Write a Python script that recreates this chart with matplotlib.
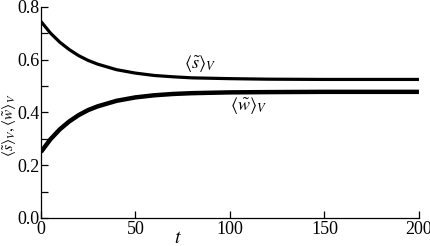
import matplotlib
matplotlib.use("Agg")
import matplotlib.pyplot as plt
from matplotlib.ticker import MultipleLocator

plt.rcParams['font.family'] = ['Liberation Serif', 'DejaVu Serif']
plt.rcParams['mathtext.fontset'] = 'stix'

# values
t = [0, 5, 10, 15, 20, 25, 30, 40, 50, 60, 70, 80, 100, 120, 150, 200]
s_mean = [0.745, 0.701, 0.666, 0.638, 0.615, 0.597, 0.583, 0.562, 0.549,
          0.540, 0.535, 0.531, 0.528, 0.526, 0.525, 0.525]
w_mean = [0.250, 0.298, 0.336, 0.366, 0.390, 0.409, 0.423, 0.444, 0.457,
          0.465, 0.470, 0.473, 0.476, 0.477, 0.478, 0.478]

fig = plt.figure(figsize=(4.31, 2.46), dpi=100)
ax = fig.add_axes([0.095, 0.114, 0.877, 0.858])

ax.plot(t, s_mean, color='black', lw=2.3, solid_capstyle='butt')
ax.plot(t, w_mean, color='black', lw=3.2, solid_capstyle='butt')

ax.text(84, 0.585, r'$\langle\tilde{s}\rangle_V$', fontsize=13, ha='center', va='center')
ax.text(110, 0.425, r'$\langle\tilde{w}\rangle_V$', fontsize=13, ha='center', va='center')

ax.set_xlim(0, 200)
ax.set_ylim(0, 0.8)
ax.set_xticks([0, 50, 100, 150, 200])
ax.set_yticks([0.0, 0.2, 0.4, 0.6, 0.8])
ax.set_yticklabels(['0.0', '0.2', '0.4', '0.6', '0.8'])
ax.yaxis.set_minor_locator(MultipleLocator(0.1))

for side in ['top', 'right']:
    ax.spines[side].set_visible(False)
for side in ['left', 'bottom']:
    ax.spines[side].set_linewidth(0.9)

ax.tick_params(axis='both', which='both', direction='in', length=5, width=0.9,
               labelsize=13, pad=1)
ax.tick_params(axis='x', pad=2)

ax.set_xlabel(r'$t$', fontsize=14)
ax.xaxis.set_label_coords(0.362, -0.055)
ax.set_ylabel(r'$\langle\tilde{s}\rangle_V,\langle\tilde{w}\rangle_V$', fontsize=11)
ax.yaxis.set_label_coords(-0.062, 0.44)

fig.savefig('out.png', dpi=100)
